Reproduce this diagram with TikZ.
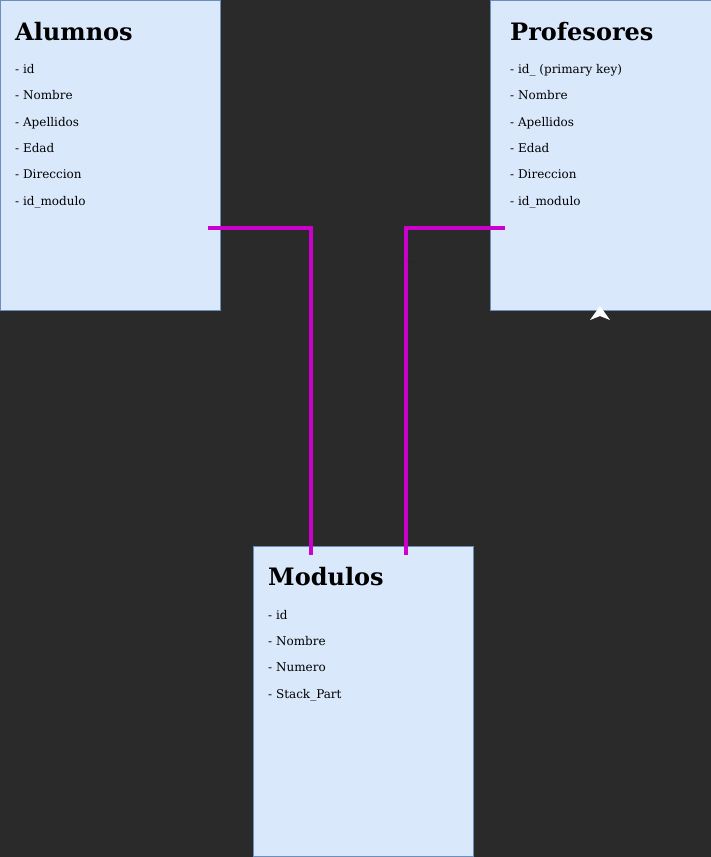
\documentclass[tikz,border=0pt]{standalone}
\usepackage{fontspec}
\setmainfont{DejaVu Serif}
\definecolor{bg}{HTML}{2A2A2A}
\definecolor{boxfill}{HTML}{DAE8FC}
\definecolor{boxline}{HTML}{6C8EBF}
\definecolor{link}{HTML}{CC00CC}
\begin{document}
\begin{tikzpicture}[x=1pt,y=-1pt,
  entity/.style={draw=boxline,fill=boxfill,line width=0.8pt,anchor=north west,inner sep=0pt,minimum width=#1,minimum height=310pt},
  title/.style={anchor=base west,inner sep=0pt,font=\fontsize{24}{29}\selectfont\bfseries,text=black},
  item/.style={anchor=base west,inner sep=0pt,font=\fontsize{12}{14}\selectfont,text=black},
  rel/.style={draw=link,line width=3.6pt}
]
\fill[bg] (0,0) rectangle (711,857);
\useasboundingbox (0,0) rectangle (711,857);

\node[entity=220pt] (alumnos) at (0,0) {};
\node[entity=221pt] (profesores) at (490,0) {};
\node[entity=220pt] (modulos) at (253,546) {};

\node[title] (ta) at (15,40) {Alumnos};
\node[item] (a1) at (15,73) {- id};
\node[item] (a2) at (15,99.5) {- Nombre};
\node[item] (a3) at (15,126) {- Apellidos};
\node[item] (a4) at (15,152) {- Edad};
\node[item] (a5) at (15,178.5) {- Direccion};
\node[item] (a6) at (15,205) {- id\_modulo};

\node[title] (tp) at (510,40) {Profesores};
\node[item] (p1) at (510,73) {- id\_ (primary key)};
\node[item] (p2) at (510,99.5) {- Nombre};
\node[item] (p3) at (510,126) {- Apellidos};
\node[item] (p4) at (510,152) {- Edad};
\node[item] (p5) at (510,178.5) {- Direccion};
\node[item] (p6) at (510,205) {- id\_modulo};

\node[title] (tm) at (268,585) {Modulos};
\node[item] (m1) at (268,619) {- id};
\node[item] (m2) at (268,645) {- Nombre};
\node[item] (m3) at (268,671) {- Numero};
\node[item] (m4) at (268,698) {- Stack\_Part};

\coordinate (aout) at (208,228);
\coordinate (pout) at (505,228);
\coordinate (min1) at (311,555);
\coordinate (min2) at (406,555);
\draw[rel] (aout) -| (min1);
\draw[rel] (pout) -| (min2);

\node[inner sep=0pt,anchor=west,font=\fontsize{4}{5}\selectfont,text=black!85] (lbl) at (407,262) {Text};

\fill[white] (590,320) -- (600,306) -- (610,320) -- (600,316) -- cycle;
\end{tikzpicture}
\end{document}
